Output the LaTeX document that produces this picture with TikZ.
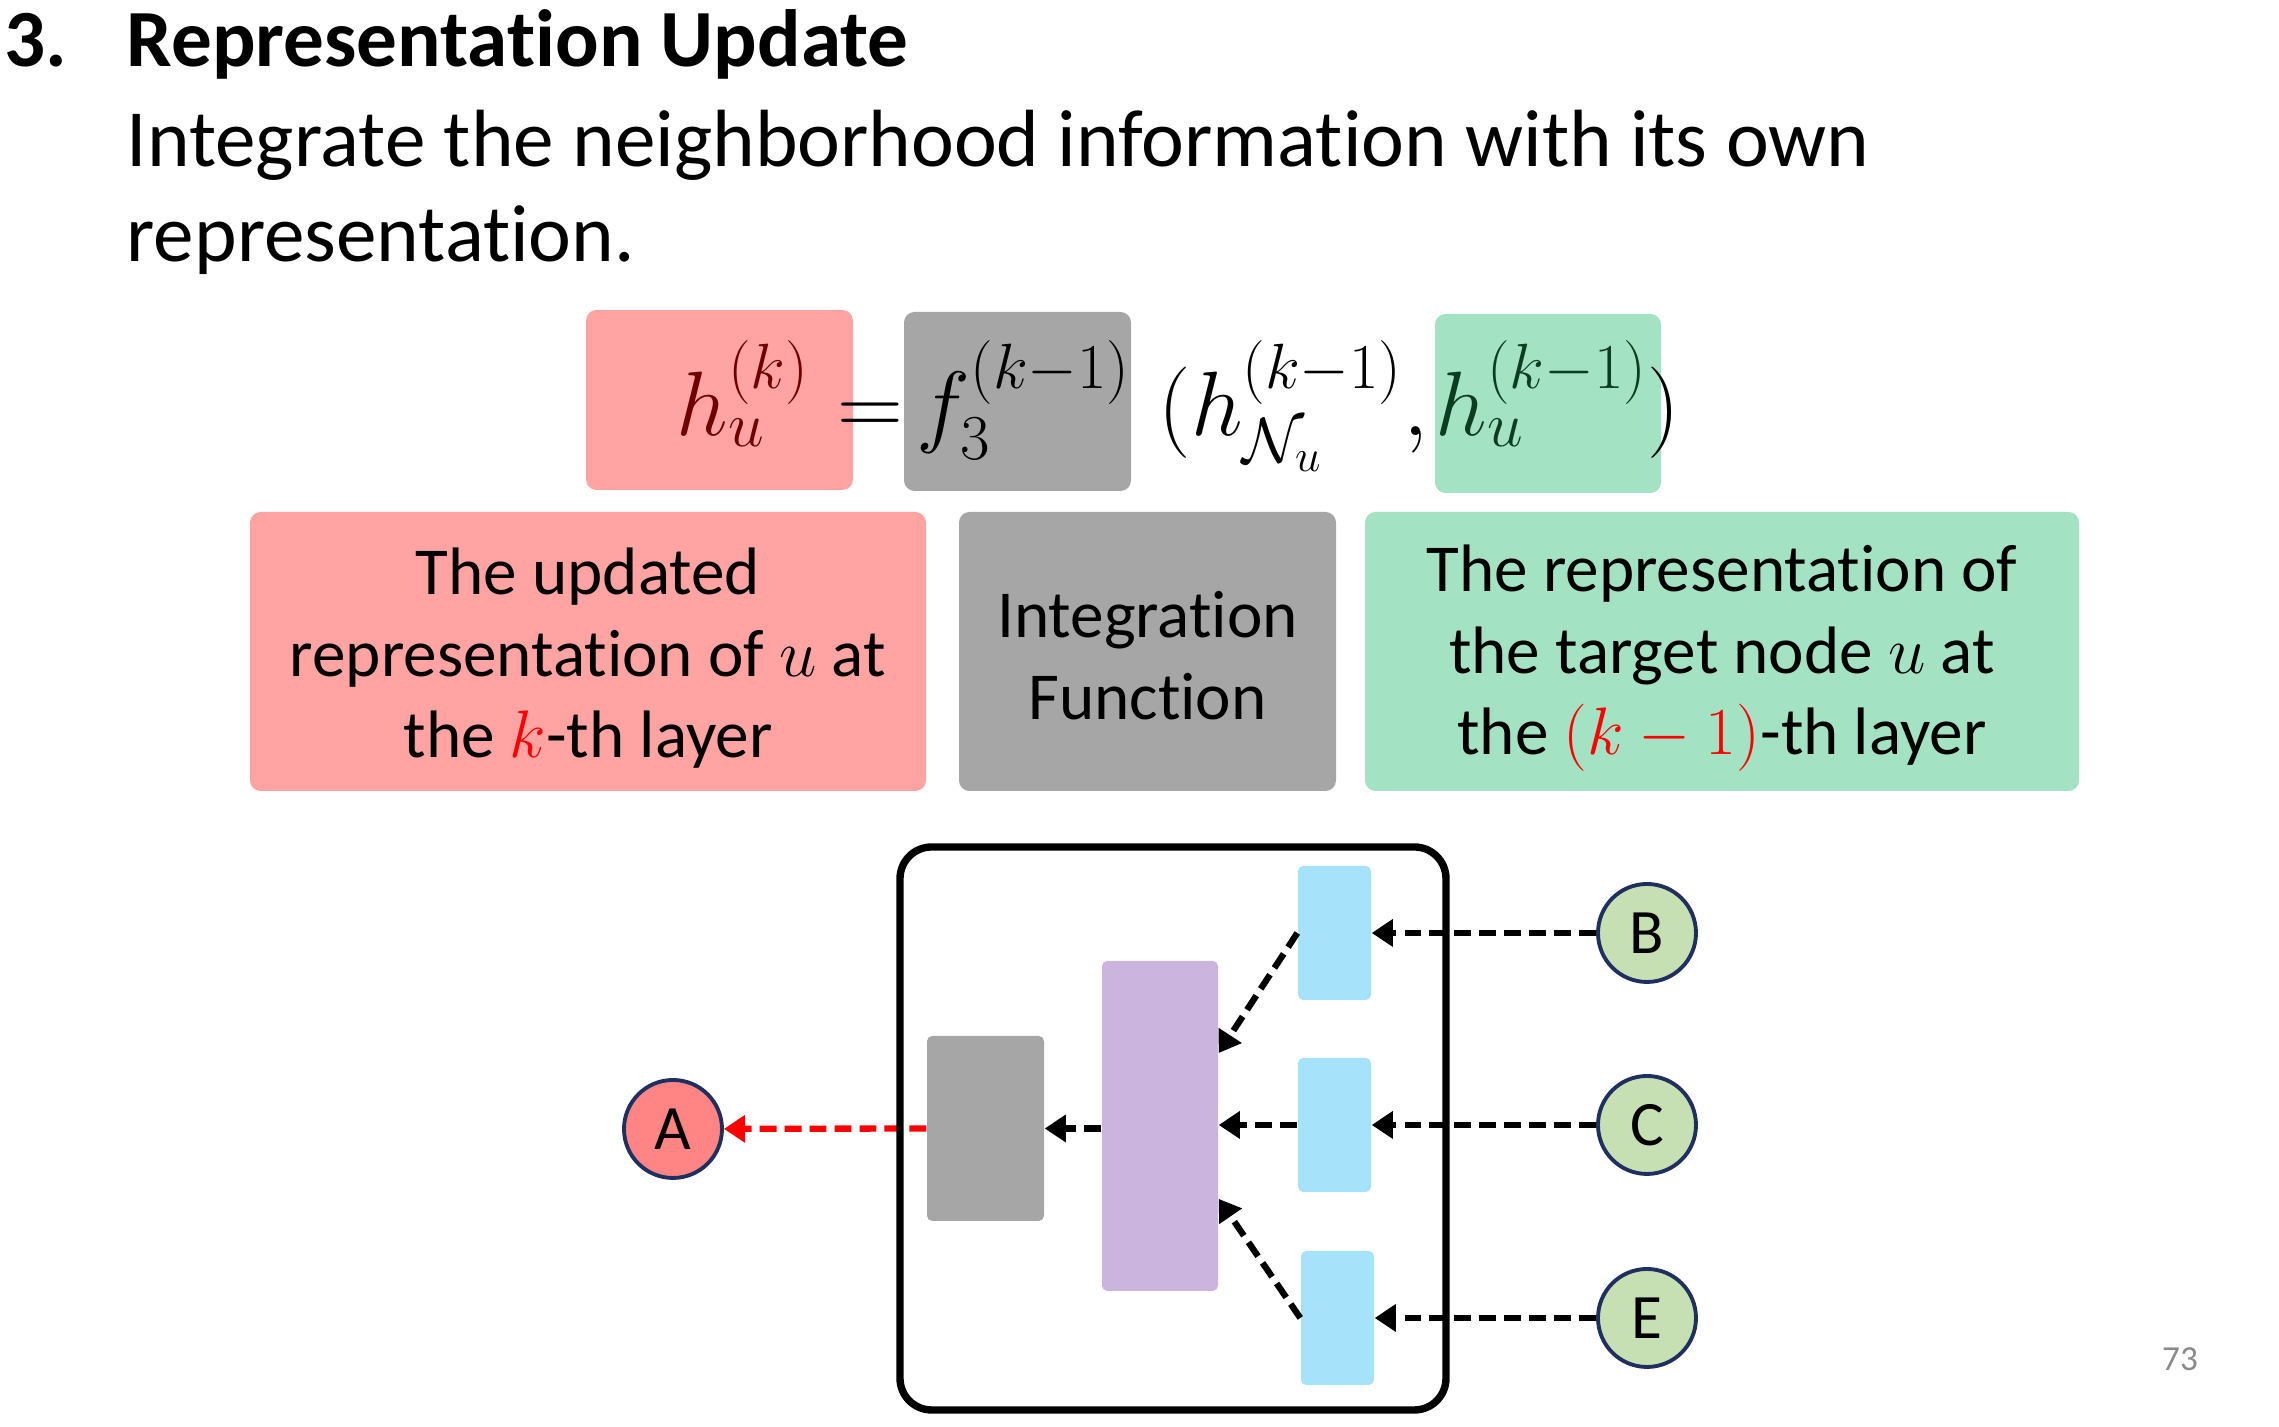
\documentclass[tikz,border=0pt]{standalone}
\usepackage{fix-cm}
\usepackage{amsmath}
\usepackage{fontspec}
\setmainfont{Carlito}[Ligatures=NoCommon]
\usetikzlibrary{arrows.meta,calc,positioning}
\definecolor{updpink}{HTML}{FFA3A3}
\definecolor{fungray}{HTML}{A6A6A6}
\definecolor{ownmint}{HTML}{A3E2C3}
\definecolor{updink}{HTML}{6E0000}
\definecolor{ownink}{HTML}{0B3E20}
\definecolor{poolpurple}{HTML}{CBB4DD}
\definecolor{msgblue}{HTML}{A6E2FA}
\definecolor{nbgreen}{HTML}{C6E0B4}
\definecolor{tgtred}{HTML}{FF8585}
\definecolor{nodeink}{HTML}{1F3060}
\definecolor{pagegray}{HTML}{8A8A8A}

\begin{document}
\begin{tikzpicture}[line join=round,
  fbox/.style={rounded corners=3pt,inner sep=0pt},
  desctext/.style={align=center,inner sep=0pt,font=\fontsize{19.1}{23.2}\selectfont},
  fpart/.style={anchor=base west,inner sep=0pt,font=\fontsize{26}{30}\selectfont},
  blk/.style={rounded corners=1.5pt,inner sep=0pt},
  nb/.style={circle,draw=nodeink,line width=1.1pt,fill=nbgreen,minimum size=0.98cm,
    inner sep=0pt,font=\fontsize{18}{20}\selectfont},
  flow/.style={-{Triangle[width=7.5pt,length=6pt]},line width=1.8pt,
    dash pattern=on 4.8pt off 2.3pt}]
\path[use as bounding box] (0,0) rectangle (22.79,14.27);

% heading
\node[anchor=base west,inner sep=0pt,font=\fontsize{23.1}{27}\selectfont\bfseries] (num) at (0.04,13.60) {3.};
\node[anchor=base west,inner sep=0pt,font=\fontsize{23.1}{27}\selectfont\bfseries] (title) at (1.26,13.60) {Representation Update};
\node[anchor=base west,inner sep=0pt,font=\fontsize{23.1}{27}\selectfont] (intro) at (1.26,12.60) {Integrate the neighborhood information with its own};
\node[anchor=base west,inner sep=0pt,font=\fontsize{23.1}{27}\selectfont] (intro2) at (1.26,11.65) {representation.};

% formula with its three coloured parts
\node[fbox,fill=updpink,minimum width=2.67cm,minimum height=1.80cm] (hbox) at (7.195,10.27) {};
\node[fbox,fill=fungray,minimum width=2.27cm,minimum height=1.79cm] (fbox3) at (10.175,10.255) {};
\node[fbox,fill=ownmint,minimum width=2.26cm,minimum height=1.79cm] (obox) at (15.48,10.235) {};
\node[fpart,text=updink] (fhk) at (6.76,9.91) {$h_u^{(k)}$};
\node[fpart] (feq) at (8.37,9.91) {$=$};
\node[fpart] (ff) at (9.16,9.91) {$f_3^{(k-1)}$};
\node[fpart] (fhn) at (11.58,9.91) {$(h_{\mathcal{N}_u}^{(k-1)},$};
\node[fpart,text=ownink] (fhu) at (14.35,9.91) {$h_u^{(k-1)}$};
\node[fpart] (fpar) at (16.47,9.91) {$)$};

% what each part means
\node[fbox,fill=updpink,minimum width=6.76cm,minimum height=2.79cm] (updbox) at (5.88,7.755) {};
\node[fbox,fill=fungray,minimum width=3.77cm,minimum height=2.79cm] (funbox) at (11.475,7.755) {};
\node[fbox,fill=ownmint,minimum width=7.14cm,minimum height=2.79cm] (ownbox) at (17.22,7.755) {};
\node[desctext] (updtxt) at ([yshift=-0.07cm]updbox.center)
  {The updated\\representation of $u$ at\\the \textcolor{red}{$k$}-th layer};
\node[desctext] (funtxt) at ([yshift=-0.04cm]funbox.center)
  {Integration\\Function};
\node[desctext] (owntxt) at ([yshift=-0.07cm]ownbox.center)
  {The representation of\\the target node $u$ at\\the \textcolor{red}{$(k-1)$}-th layer};

% the layer
\node[blk,fill=fungray,minimum width=1.17cm,minimum height=1.85cm] (comb) at (9.855,2.985) {};
\node[blk,fill=poolpurple,minimum width=1.16cm,minimum height=3.30cm] (pool) at (11.60,3.01) {};
\node[blk,fill=msgblue,minimum width=0.73cm,minimum height=1.34cm] (b1) at (13.345,4.94) {};
\node[blk,fill=msgblue,minimum width=0.73cm,minimum height=1.34cm] (b2) at (13.345,3.02) {};
\node[blk,fill=msgblue,minimum width=0.73cm,minimum height=1.34cm] (b3) at (13.375,1.09) {};
\node[nb] (B) at (16.47,4.94) {B};
\node[nb] (C) at (16.47,3.02) {C};
\node[nb] (E) at (16.47,1.09) {E};
\node[nb,fill=tgtred] (A) at (6.73,2.98) {A};

\draw[flow,red] (comb.west) -- (A);
\node[draw,line width=2.1pt,rounded corners=9pt,minimum width=5.46cm,minimum height=5.63cm] (layer) at (11.73,2.985) {};
\draw[flow] (B) -- (b1);
\draw[flow] (C) -- (b2);
\draw[flow] (E) -- (b3);
\draw[flow] (b1.west) -- ($(pool.north east)!0.28!(pool.south east)$);
\draw[flow] (b2.west) -- (pool.east |- b2.west);
\draw[flow] (b3.west) -- ($(pool.north east)!0.72!(pool.south east)$);
\draw[flow] (pool.west |- comb.east) -- (comb.east);

\node[text=pagegray,font=\fontsize{10}{12}\selectfont] (pg) at (21.80,0.68) {73};
\end{tikzpicture}
\end{document}
